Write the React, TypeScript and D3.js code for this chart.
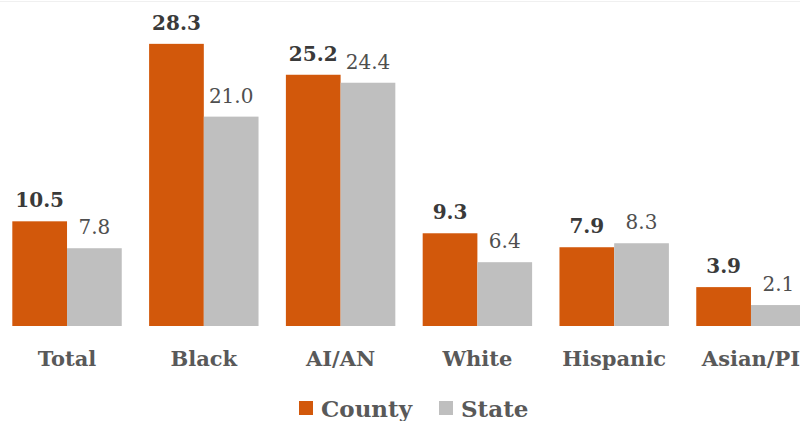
import React from "react";
import * as d3 from "d3";

const categories = ["Total", "Black", "AI/AN", "White", "Hispanic", "Asian/PI"];
const seriesNames = ["County", "State"];
const countyValues = [10.5, 28.3, 25.2, 9.3, 7.9, 3.9];
const stateValues = [7.8, 21.0, 24.4, 6.4, 8.3, 2.1];

const W = 800;
const H = 421;
const COLORS = ["#D2580B", "#BFBFBF"];
const FONT = "'DejaVu Serif', 'Liberation Serif', serif";

export default function App() {
  const x = d3
    .scaleBand<string>()
    .domain(categories)
    .range([0, 818])
    .paddingInner(0.2)
    .paddingOuter(0.09);
  const xs = d3
    .scaleBand<string>()
    .domain(seriesNames)
    .range([0, x.bandwidth()]);
  const y = d3.scaleLinear().domain([0, 30]).range([326, 326 - 299.1]);

  const series = [countyValues, stateValues];

  return (
    <svg
      width={W}
      height={H}
      style={{ position: "absolute", left: 0, top: 0, background: "#fff" }}
    >
      <line x1={0} x2={W} y1={1.5} y2={1.5} stroke="#f0f0f0" strokeWidth={1} />
      {categories.map((c, i) => (
        <g key={c} transform={`translate(${x(c)},0)`}>
          {series.map((vals, s) => {
            const v = vals[i];
            const bx = xs(seriesNames[s])!;
            return (
              <g key={s}>
                <rect
                  x={bx}
                  y={y(v)}
                  width={xs.bandwidth()}
                  height={y(0) - y(v)}
                  fill={COLORS[s]}
                />
                <text
                  x={bx + xs.bandwidth() / 2}
                  y={y(v) - 14}
                  textAnchor="middle"
                  fontFamily={FONT}
                  fontSize={20}
                  fontWeight={s === 0 ? "bold" : "normal"}
                  fill={s === 0 ? "#3a3a3a" : "#4f4f4f"}
                >
                  {v.toFixed(1)}
                </text>
              </g>
            );
          })}
          <text
            x={x.bandwidth() / 2}
            y={366}
            textAnchor="middle"
            fontFamily={FONT}
            fontSize={21}
            fontWeight="bold"
            fill="#595959"
          >
            {c}
          </text>
        </g>
      ))}
      {/* legend */}
      {seriesNames.map((name, s) => {
        const lx = s === 0 ? 299 : 439;
        return (
          <g key={name} transform={`translate(${lx},0)`}>
            <rect x={0} y={401} width={14} height={14} fill={COLORS[s]} />
            <text
              x={22}
              y={417}
              fontFamily={FONT}
              fontSize={23}
              fontWeight="bold"
              fill="#595959"
            >
              {name}
            </text>
          </g>
        );
      })}
    </svg>
  );
}
